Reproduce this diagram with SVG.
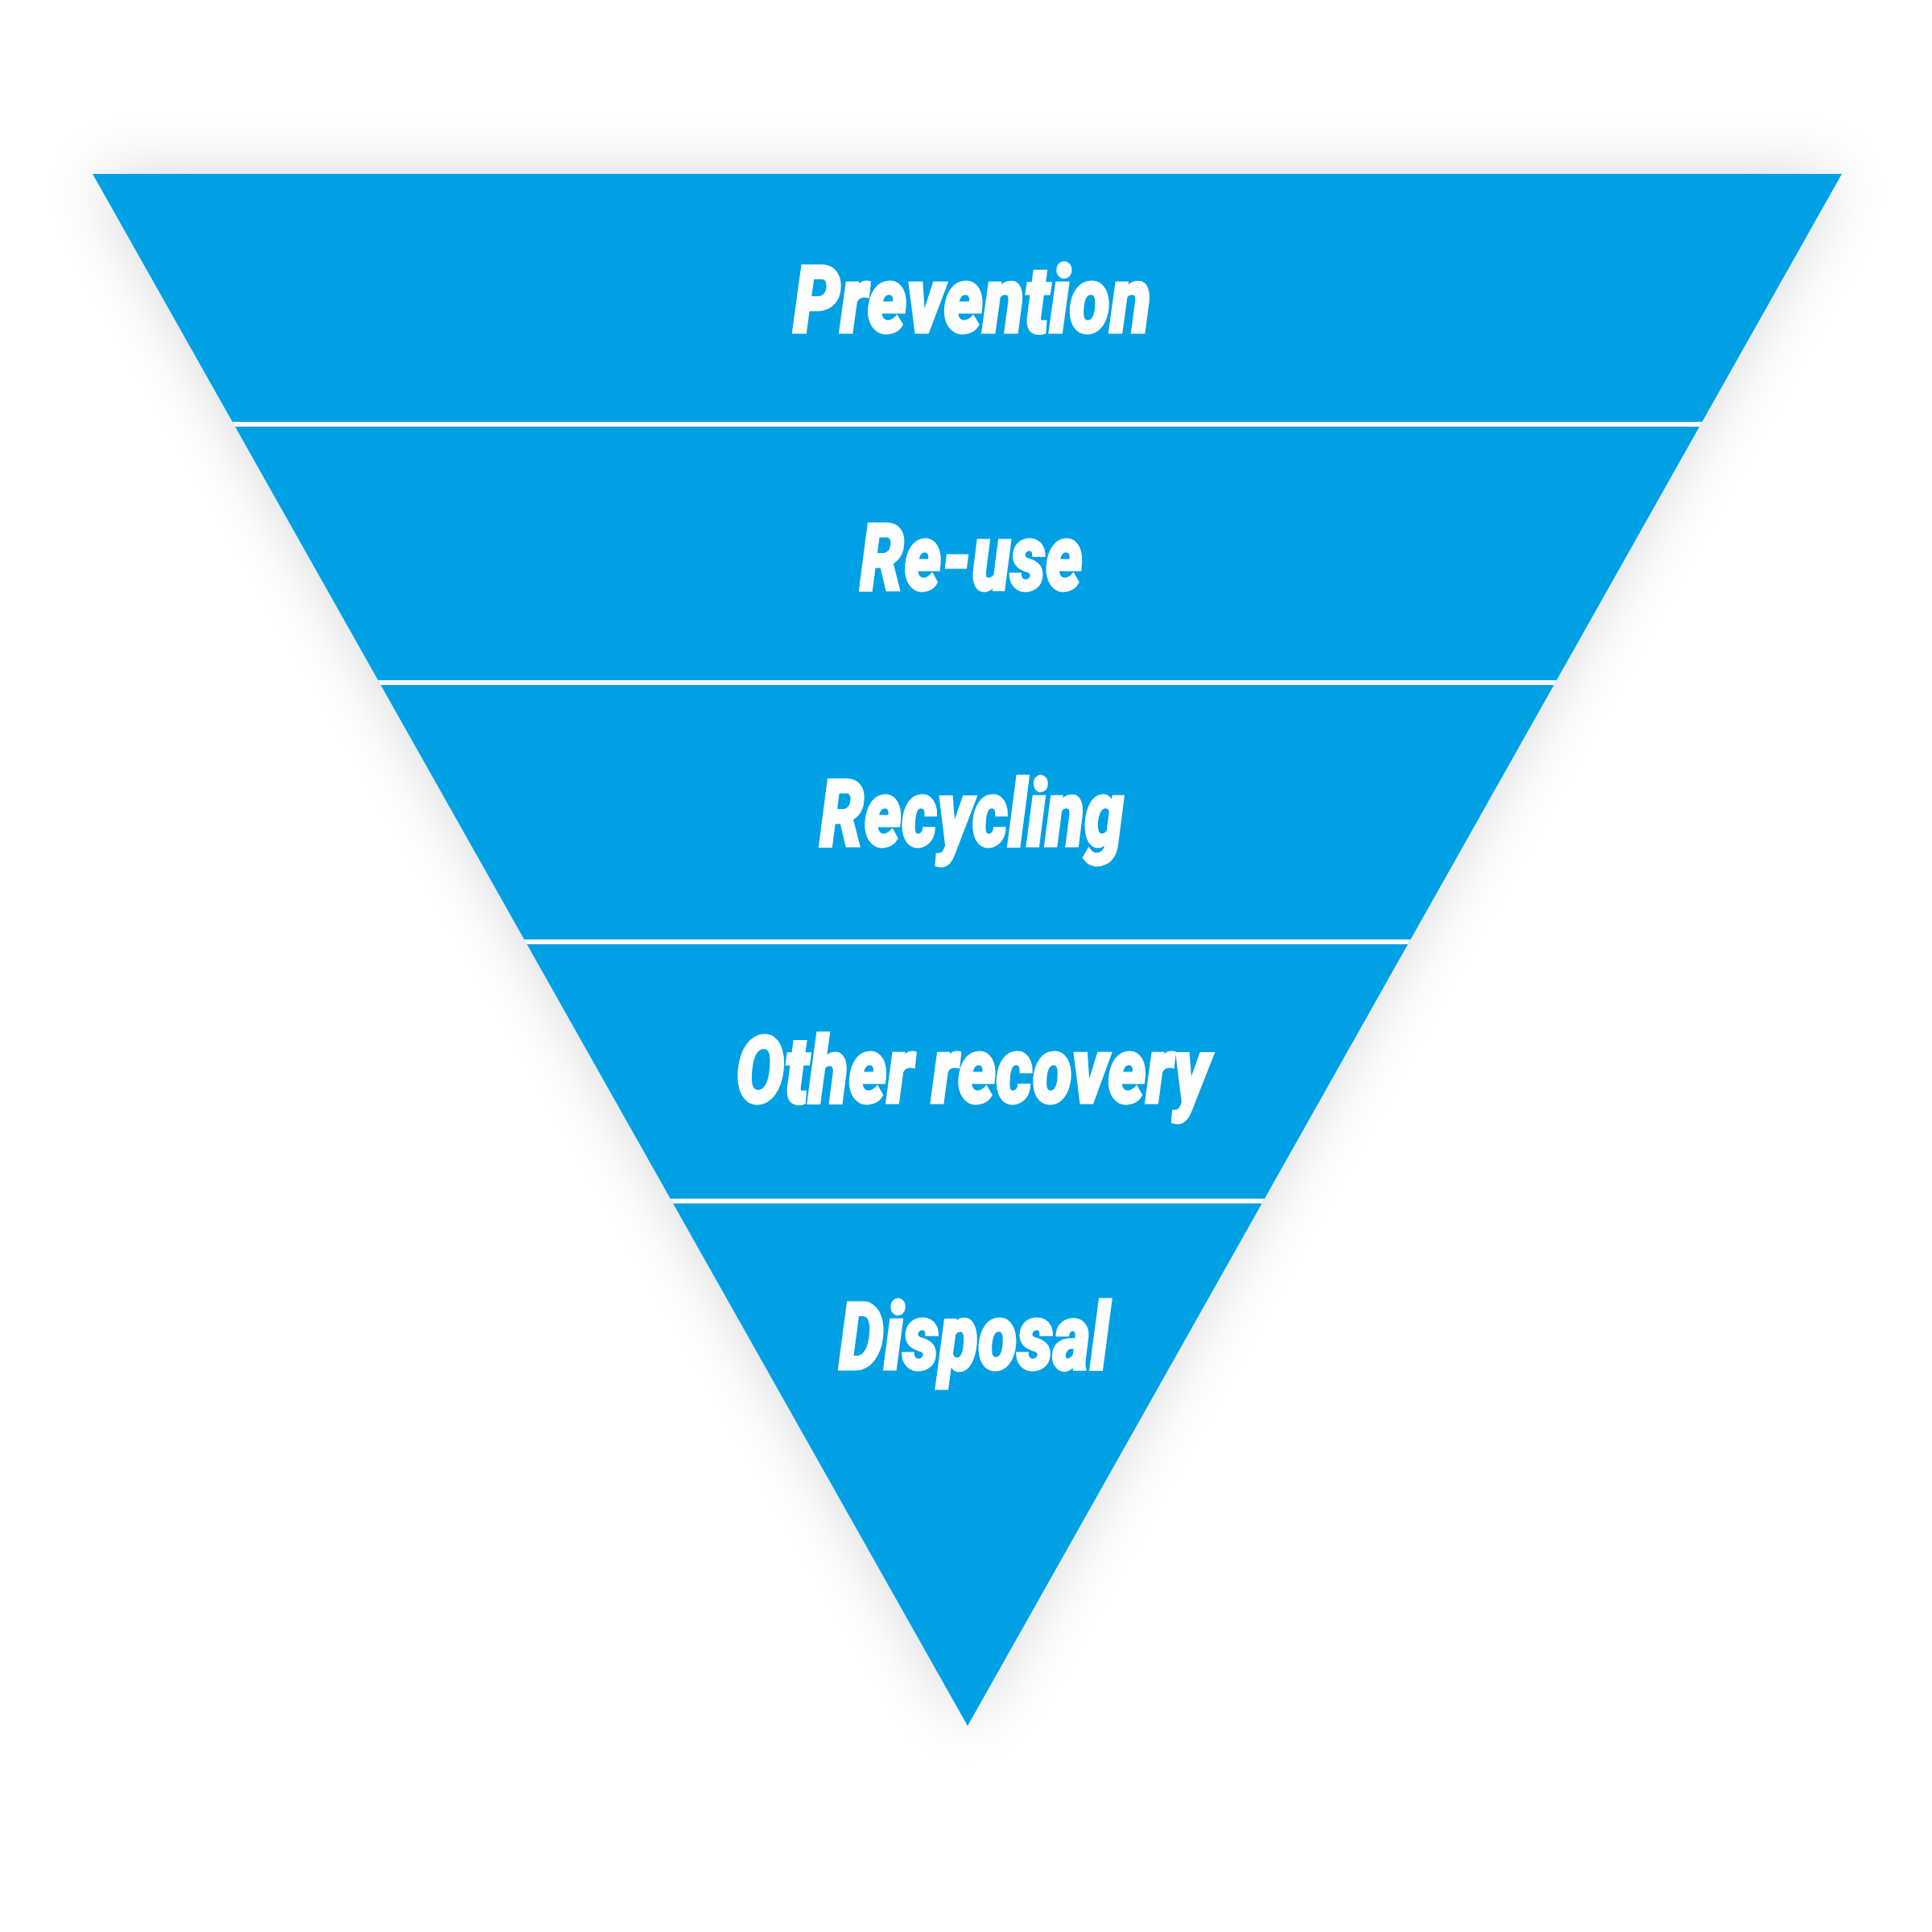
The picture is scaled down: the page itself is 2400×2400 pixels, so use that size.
<svg xmlns="http://www.w3.org/2000/svg" width="2400" height="2400" viewBox="0 0 2400 2400">
  <defs>
    <filter id="shadow" x="-20%" y="-20%" width="140%" height="140%">
      <feGaussianBlur in="SourceAlpha" stdDeviation="40"/>
      <feComponentTransfer><feFuncA type="linear" slope="0.16"/></feComponentTransfer>
      <feMerge><feMergeNode/><feMergeNode in="SourceGraphic"/></feMerge>
    </filter>
    <clipPath id="tri"><polygon points="115,216 2288,216 1202,2144"/></clipPath>
  </defs>
  <style>
    .lbl { font-family: Roboto, "DejaVu Sans", sans-serif; font-weight: 900; font-style: italic; font-size: 116px; fill: #ffffff; stroke: #ffffff; stroke-width: 3; }
    .sep { stroke: #ffffff; stroke-width: 6; }
  </style>
  <rect width="2400" height="2400" fill="#ffffff"/>
  <g id="pyramid">
    <polygon points="115,216 2288,216 1202,2144" fill="#00A0E4" filter="url(#shadow)"/>
  </g>
  <g id="separators" clip-path="url(#tri)">
    <line class="sep" x1="0" y1="527" x2="2400" y2="527"/>
    <line class="sep" x1="0" y1="848" x2="2400" y2="848"/>
    <line class="sep" x1="0" y1="1170" x2="2400" y2="1170"/>
    <line class="sep" x1="0" y1="1492" x2="2400" y2="1492"/>
  </g>
  <g id="prevention"><text class="lbl" x="985" y="413" textLength="445" lengthAdjust="spacingAndGlyphs">Prevention</text></g>
  <g id="reuse"><text class="lbl" x="1068" y="733" textLength="277" lengthAdjust="spacingAndGlyphs">Re-use</text></g>
  <g id="recycling"><text class="lbl" x="1018" y="1051" textLength="378" lengthAdjust="spacingAndGlyphs">Recycling</text></g>
  <g id="other-recovery"><text class="lbl" x="914" y="1370" textLength="589" lengthAdjust="spacingAndGlyphs">Other recovery</text></g>
  <g id="disposal"><text class="lbl" x="1042" y="1701" textLength="336" lengthAdjust="spacingAndGlyphs">Disposal</text></g>
</svg>
